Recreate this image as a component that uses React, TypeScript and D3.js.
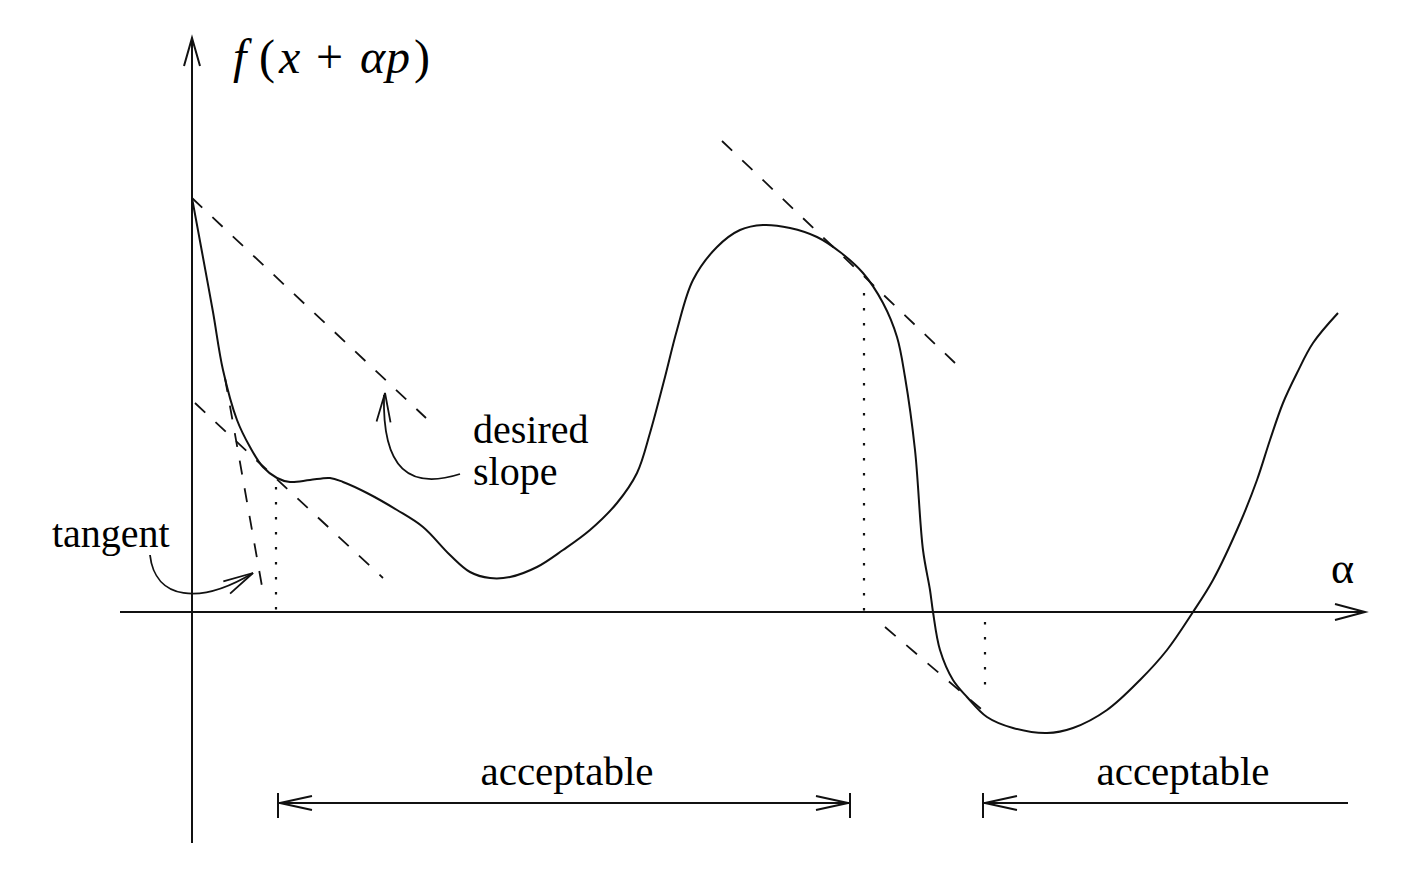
import React from "react";
import * as d3 from "d3";

// ---- data (alpha units, f units) ----
const curveAlpha = [0.0, 0.1, 0.21, 0.31, 0.45, 0.58, 0.71, 0.85, 0.98, 1.18, 1.38, 1.51, 1.75, 2.05, 2.31, 2.58, 2.78, 2.98, 3.18, 3.45, 3.71, 3.98, 4.25, 4.45, 4.58, 4.73, 4.85, 5.01, 5.25, 5.48, 5.71, 5.98, 6.25, 6.48, 6.71, 6.91, 7.05, 7.13, 7.23, 7.31, 7.38, 7.41, 7.48, 7.61, 7.75, 7.95, 8.21, 8.55, 8.81, 9.15, 9.48, 9.75, 10.01, 10.21, 10.48, 10.65, 10.78, 10.91, 11.05, 11.21, 11.46];
const curveF = [4.14, 3.6, 3.0, 2.42, 1.92, 1.65, 1.45, 1.34, 1.3, 1.32, 1.34, 1.3, 1.19, 1.02, 0.85, 0.57, 0.4, 0.34, 0.35, 0.45, 0.62, 0.82, 1.09, 1.39, 1.79, 2.35, 2.82, 3.32, 3.65, 3.82, 3.87, 3.84, 3.75, 3.6, 3.39, 3.09, 2.75, 2.35, 1.62, 0.62, 0.22, 0.0, -0.38, -0.68, -0.85, -1.05, -1.16, -1.21, -1.16, -0.98, -0.68, -0.38, 0.0, 0.32, 0.89, 1.32, 1.72, 2.09, 2.39, 2.69, 2.99];

// dashed lines: [alpha0, f0, alpha1, f1]
const dashedLines = [
  [0.0, 4.14, 2.34, 1.94], // desired slope (upper)
  [0.03, 2.09, 1.91, 0.34], // desired slope (lower, parallel)
  [0.33, 2.34, 0.71, 0.2], // tangent at alpha = 0 (visible part)
  [5.3, 4.71, 7.63, 2.49], // tangent near local max
  [6.93, -0.15, 7.95, -1.02], // tangent near local min
];

// dotted verticals: [alpha, fTop, fBottom]
const dottedLines = [
  [0.84, 1.25, 0.0],
  [6.72, 3.19, 0.0],
  [7.93, -0.1, -0.85],
];

// acceptable intervals
const intervals = [
  { a0: 0.86, a1: 6.58, rightArrow: true, rightBar: true, label: "acceptable", labelA: 3.75 },
  { a0: 7.91, a1: 11.56, rightArrow: false, rightBar: false, label: "acceptable", labelA: 9.91 },
];

// title glyphs: [text, italic, x offset]
const titleGlyphs: [string, boolean, number][] = [
  ["f", true, 0],
  ["(", false, 26],
  ["x", true, 46],
  ["+", false, 83],
  ["α", true, 127],
  ["p", true, 153],
  [")", false, 181],
];

const xDomainAxis = [-0.72, 11.73];
const yDomainAxis = [-2.31, 5.74];
const intervalF = -1.91;

export default function App() {
  const W = 1405;
  const H = 871;
  const x = d3.scaleLinear().domain([0, 1]).range([192, 292]);
  const y = d3.scaleLinear().domain([0, 1]).range([612, 512]);

  const pts: [number, number][] = curveAlpha.map((a, i) => [a, curveF[i]]);
  const line = d3
    .line<[number, number]>()
    .x((d) => x(d[0]))
    .y((d) => y(d[1]))
    .curve(d3.curveCatmullRom.alpha(0.5));

  const arrowHead = (tx: number, ty: number, dx: number, dy: number, len = 30, half = 8) => {
    const n = Math.hypot(dx, dy);
    const ux = dx / n, uy = dy / n;
    const px = -uy, py = ux;
    const bx = tx - ux * len, by = ty - uy * len;
    return `M${bx + px * half},${by + py * half}L${tx},${ty}L${bx - px * half},${by - py * half}`;
  };

  const stroke = "#111";
  const serif = "'Liberation Serif', 'Times New Roman', serif";

  const x0 = x(0);
  const yAxisTop = y(yDomainAxis[1]);
  const xAxisRight = x(xDomainAxis[1]);
  const iy = y(intervalF);

  return (
    <svg width={W} height={H} style={{ position: "absolute", left: 0, top: 0, background: "#fff" }}>
      {/* axes */}
      <line x1={x0} x2={x0} y1={y(yDomainAxis[0])} y2={yAxisTop} stroke={stroke} strokeWidth={2} />
      <path d={arrowHead(x0, yAxisTop, 0, -1, 28, 8)} fill="none" stroke={stroke} strokeWidth={2} />
      <line x1={x(xDomainAxis[0])} x2={xAxisRight} y1={y(0)} y2={y(0)} stroke={stroke} strokeWidth={2} />
      <path d={arrowHead(xAxisRight, y(0), 1, 0, 30, 8)} fill="none" stroke={stroke} strokeWidth={2} />

      {/* dashed lines */}
      {dashedLines.map((d, i) => (
        <line key={"d" + i} x1={x(d[0])} y1={y(d[1])} x2={x(d[2])} y2={y(d[3])} stroke={stroke} strokeWidth={1.8} strokeDasharray="14,14" />
      ))}

      {/* dotted lines */}
      {dottedLines.map((d, i) => (
        <line key={"p" + i} x1={x(d[0])} x2={x(d[0])} y1={y(d[1])} y2={y(d[2])} stroke={stroke} strokeWidth={2.2} strokeDasharray="2.5,12.5" />
      ))}

      {/* function curve */}
      <path d={line(pts) || ""} fill="none" stroke={stroke} strokeWidth={2} />

      {/* labels */}
      <text y={73} fontFamily={serif} fontSize={48} fill="#000">
        {titleGlyphs.map((g, i) => (
          <tspan key={i} x={233 + g[2]} fontStyle={g[1] ? "italic" : "normal"}>{g[0]}</tspan>
        ))}
      </text>
      <text x={1331} y={583} fontFamily={serif} fontSize={44} fill="#000">α</text>

      <text x={473} y={443} fontFamily={serif} fontSize={40} fill="#000">desired</text>
      <text x={473} y={485} fontFamily={serif} fontSize={40} fill="#000">slope</text>
      <path d="M460,474 C410,490 382,470 384,395" fill="none" stroke={stroke} strokeWidth={1.8} />
      <path d={arrowHead(385, 393, 0.05, -1, 29, 7)} fill="none" stroke={stroke} strokeWidth={1.8} />

      <text x={52} y={547} fontFamily={serif} fontSize={40} fill="#000">tangent</text>
      <path d="M150,555 C155,600 200,605 253,573" fill="none" stroke={stroke} strokeWidth={1.8} />
      <path d={arrowHead(253, 573, 1, -0.55, 30, 7)} fill="none" stroke={stroke} strokeWidth={1.8} />

      {/* acceptable intervals */}
      {intervals.map((iv, i) => {
        const xa = x(iv.a0);
        const xb = x(iv.a1);
        return (
          <g key={"iv" + i}>
            <line x1={xa} x2={xb} y1={iy} y2={iy} stroke={stroke} strokeWidth={2} />
            <line x1={xa} x2={xa} y1={iy - 10} y2={iy + 15} stroke={stroke} strokeWidth={2} />
            {iv.rightBar && <line x1={xb} x2={xb} y1={iy - 10} y2={iy + 15} stroke={stroke} strokeWidth={2} />}
            <path d={arrowHead(xa + 2, iy, -1, 0, 32, 7)} fill="none" stroke={stroke} strokeWidth={2} />
            {iv.rightArrow && <path d={arrowHead(xb - 2, iy, 1, 0, 32, 7)} fill="none" stroke={stroke} strokeWidth={2} />}
            <text x={x(iv.labelA)} y={785} textAnchor="middle" fontFamily={serif} fontSize={41} fill="#000">{iv.label}</text>
          </g>
        );
      })}
    </svg>
  );
}
